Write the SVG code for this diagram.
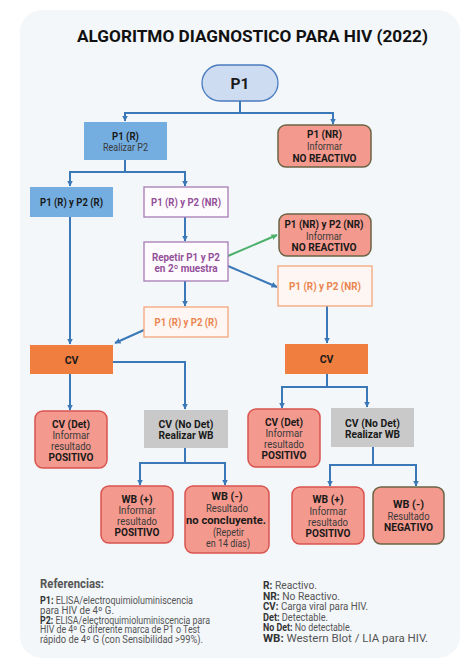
<svg xmlns="http://www.w3.org/2000/svg" width="474" height="670" viewBox="0 0 474 670">
<defs>
<style>
.t{font-family:Roboto,"Liberation Sans",sans-serif;font-size:10.5px;text-anchor:middle;fill:#1a1a1a}
.b{font-weight:bold}
.r{fill:#3a3a3a}
.pu{fill:#94509a;font-weight:bold}
.or{fill:#ea8550;font-weight:bold}
.c{fill:none;stroke:#3a78b8;stroke-width:2;marker-end:url(#ab)}
.g{fill:none;stroke:#4caf6a;stroke-width:2;marker-end:url(#ag)}
.blue{fill:#74aee0}
.sal{fill:#f4998d;stroke:#d9534f;stroke-width:1.5}
.saln{fill:#f4998d;stroke:#6b6445;stroke-width:1.5}
.pbox{fill:#fdfbfd;stroke:#a77bb5;stroke-width:1.3}
.obox{fill:#fdf6f2;stroke:#f5a77a;stroke-width:1.3}
.cv{fill:#f07e3e}
.gray{fill:#c9c9c9}
.l{font-family:Roboto,"Liberation Sans",sans-serif;font-size:10px;fill:#555}
.lb{font-weight:bold;fill:#333}
</style>
<marker id="ab" markerWidth="7" markerHeight="7" refX="5.5" refY="3.5" orient="auto" markerUnits="userSpaceOnUse"><path d="M0,0.5 L6,3.5 L0,6.5 z" fill="#3a78b8"/></marker>
<marker id="ag" markerWidth="7" markerHeight="7" refX="5.5" refY="3.5" orient="auto" markerUnits="userSpaceOnUse"><path d="M0,0.5 L6,3.5 L0,6.5 z" fill="#4caf6a"/></marker>
</defs>
<rect x="0" y="0" width="474" height="670" fill="#ffffff"/>
<rect x="20" y="10" width="440" height="648" rx="22" fill="#f3f7fa"/>
<text x="252.5" y="42" style="font-family:Roboto,'Liberation Sans',sans-serif;font-size:17px;font-weight:bold;fill:#111;text-anchor:middle" textLength="351" lengthAdjust="spacingAndGlyphs">ALGORITMO DIAGNOSTICO PARA HIV (2022)</text>

<g id="connectors">
<path class="c" d="M240 101 V113 H125 V121"/>
<path class="c" d="M240 113 H333 V124"/>
<path class="c" d="M125 160 V172 H70 V186"/>
<path class="c" d="M125 172 H185 V186"/>
<path class="c" d="M70 217 V344"/>
<path class="c" d="M185 217 V241"/>
<path class="c" d="M185 281 V306"/>
<path class="c" d="M144 330 L115 343"/>
<path class="g" d="M228 256 L277 235"/>
<path class="c" d="M228 266 L277 287"/>
<path class="c" d="M327 306 V343"/>
<path class="c" d="M70 374 V410"/>
<path class="c" d="M113 362 H185 V409"/>
<path class="c" d="M327 374 V387 H282 V408"/>
<path class="c" d="M327 387 H367 V407"/>
<path class="c" d="M185 448 V463 H140 V485"/>
<path class="c" d="M185 463 H225 V485"/>
<path class="c" d="M373 447 V465 H330 V486"/>
<path class="c" d="M373 465 H416 V486"/>
</g>

<g id="p1">
<rect x="202" y="65" width="76" height="36" rx="18" fill="#cddcf0" stroke="#4b7bbf" stroke-width="1.3"/>
<text class="t b" x="240" y="89" style="font-size:15.5px">P1</text>
</g>
<g id="p1r">
<rect class="blue" x="84" y="122" width="83" height="38"/>
<text class="t b" x="125.5" y="139.5" textLength="27" lengthAdjust="spacingAndGlyphs">P1 (R)</text>
<text class="t r" x="125.5" y="150.5" textLength="45" lengthAdjust="spacingAndGlyphs">Realizar P2</text>
</g>
<g id="p1nr">
<rect class="saln" x="278" y="125" width="93" height="42" rx="8"/>
<text class="t b" x="324.5" y="138" textLength="35" lengthAdjust="spacingAndGlyphs">P1 (NR)</text>
<text class="t r" x="324.5" y="150" textLength="35" lengthAdjust="spacingAndGlyphs">Informar</text>
<text class="t b" x="324.5" y="161.5" textLength="64" lengthAdjust="spacingAndGlyphs">NO REACTIVO</text>
</g>
<g id="p1r_p2r">
<rect class="blue" x="30" y="187" width="83" height="30"/>
<text class="t b" x="71.5" y="206" textLength="63" lengthAdjust="spacingAndGlyphs">P1 (R) y P2 (R)</text>
</g>
<g id="p1r_p2nr">
<rect class="pbox" x="144" y="187" width="84" height="30"/>
<text class="t pu" x="186" y="206" textLength="70" lengthAdjust="spacingAndGlyphs">P1 (R) y P2 (NR)</text>
</g>
<g id="repetir">
<rect class="pbox" x="144" y="242" width="84" height="39"/>
<text class="t pu" x="186" y="260.5" textLength="68" lengthAdjust="spacingAndGlyphs">Repetir P1 y P2</text>
<text class="t pu" x="186" y="271.5" textLength="63" lengthAdjust="spacingAndGlyphs">en 2º muestra</text>
</g>
<g id="p1r_p2r_2">
<rect class="obox" x="144" y="307" width="84" height="30"/>
<text class="t or" x="186" y="326" textLength="63" lengthAdjust="spacingAndGlyphs">P1 (R) y P2 (R)</text>
</g>
<g id="p1nr_p2nr">
<rect class="saln" x="279" y="214" width="92" height="42" rx="8"/>
<text class="t b" x="324" y="228" textLength="79" lengthAdjust="spacingAndGlyphs">P1 (NR) y P2 (NR)</text>
<text class="t r" x="324" y="239.5" textLength="36" lengthAdjust="spacingAndGlyphs">Informar</text>
<text class="t b" x="324" y="250.5" textLength="65" lengthAdjust="spacingAndGlyphs">NO REACTIVO</text>
</g>
<g id="p1r_p2nr_2">
<rect class="obox" x="278" y="266" width="94" height="40"/>
<text class="t or" x="325" y="290" textLength="72" lengthAdjust="spacingAndGlyphs">P1 (R) y P2 (NR)</text>
</g>
<g id="cv_left">
<rect class="cv" x="30" y="345" width="83" height="29"/>
<text class="t b" x="71.5" y="363.5">CV</text>
</g>
<g id="cv_right">
<rect class="cv" x="285" y="344" width="83" height="30"/>
<text class="t b" x="326.5" y="363">CV</text>
</g>
<g id="cvdet_left">
<rect class="sal" x="35" y="411" width="72" height="57" rx="8"/>
<text class="t b" x="71" y="428" textLength="38" lengthAdjust="spacingAndGlyphs">CV (Det)</text>
<text class="t r" x="71" y="439" textLength="37" lengthAdjust="spacingAndGlyphs">Informar</text>
<text class="t r" x="71" y="450" textLength="40" lengthAdjust="spacingAndGlyphs">resultado</text>
<text class="t b" x="71" y="461" textLength="45" lengthAdjust="spacingAndGlyphs">POSITIVO</text>
</g>
<g id="cvnodet_left">
<rect class="gray" x="144" y="410" width="84" height="38"/>
<text class="t b" x="186" y="428" textLength="55" lengthAdjust="spacingAndGlyphs">CV (No Det)</text>
<text class="t b" x="186" y="439" textLength="55" lengthAdjust="spacingAndGlyphs">Realizar WB</text>
</g>
<g id="cvdet_right">
<rect class="sal" x="248" y="409" width="72" height="58" rx="8"/>
<text class="t b" x="284" y="426" textLength="38" lengthAdjust="spacingAndGlyphs">CV (Det)</text>
<text class="t r" x="284" y="437" textLength="37" lengthAdjust="spacingAndGlyphs">Informar</text>
<text class="t r" x="284" y="448" textLength="40" lengthAdjust="spacingAndGlyphs">resultado</text>
<text class="t b" x="284" y="459" textLength="45" lengthAdjust="spacingAndGlyphs">POSITIVO</text>
</g>
<g id="cvnodet_right">
<rect class="gray" x="331" y="408" width="83" height="39"/>
<text class="t b" x="372.5" y="427" textLength="55" lengthAdjust="spacingAndGlyphs">CV (No Det)</text>
<text class="t b" x="372.5" y="438" textLength="55" lengthAdjust="spacingAndGlyphs">Realizar WB</text>
</g>
<g id="wbpos_left">
<rect class="sal" x="101" y="486" width="72" height="57" rx="8"/>
<text class="t b" x="137" y="503" textLength="31" lengthAdjust="spacingAndGlyphs">WB (+)</text>
<text class="t r" x="137" y="514" textLength="37" lengthAdjust="spacingAndGlyphs">Informar</text>
<text class="t r" x="137" y="525" textLength="40" lengthAdjust="spacingAndGlyphs">resultado</text>
<text class="t b" x="137" y="536" textLength="45" lengthAdjust="spacingAndGlyphs">POSITIVO</text>
</g>
<g id="wbneg_left">
<rect class="sal" x="185" y="486" width="84" height="67" rx="8"/>
<text class="t b" x="227" y="500" textLength="31" lengthAdjust="spacingAndGlyphs">WB (-)</text>
<text class="t r" x="227" y="512" textLength="42" lengthAdjust="spacingAndGlyphs">Resultado</text>
<text class="t b" x="226" y="524" textLength="80" lengthAdjust="spacingAndGlyphs">no concluyente.</text>
<text class="t r" x="228.5" y="536" textLength="31" lengthAdjust="spacingAndGlyphs">(Repetir</text>
<text class="t r" x="228" y="547" textLength="44" lengthAdjust="spacingAndGlyphs">en 14 días)</text>
</g>
<g id="wbpos_right">
<rect class="sal" x="292" y="487" width="72" height="57" rx="8"/>
<text class="t b" x="328" y="503" textLength="31" lengthAdjust="spacingAndGlyphs">WB (+)</text>
<text class="t r" x="328" y="515" textLength="37" lengthAdjust="spacingAndGlyphs">Informar</text>
<text class="t r" x="328" y="526" textLength="40" lengthAdjust="spacingAndGlyphs">resultado</text>
<text class="t b" x="328" y="537" textLength="45" lengthAdjust="spacingAndGlyphs">POSITIVO</text>
</g>
<g id="wbneg_right">
<rect class="saln" x="373" y="487" width="71" height="57" rx="8"/>
<text class="t b" x="408.5" y="508" textLength="31" lengthAdjust="spacingAndGlyphs">WB (-)</text>
<text class="t r" x="408.5" y="520" textLength="42" lengthAdjust="spacingAndGlyphs">Resultado</text>
<text class="t b" x="408.5" y="531" textLength="49" lengthAdjust="spacingAndGlyphs">NEGATIVO</text>
</g>

<g id="legend">
<text class="l lb" x="40" y="588" style="font-size:12px;fill:#555" textLength="64" lengthAdjust="spacingAndGlyphs">Referencias:</text>
<text class="l" x="40" y="604" textLength="153" lengthAdjust="spacingAndGlyphs"><tspan class="lb">P1:</tspan> ELISA/electroquimioluminiscencia</text>
<text class="l" x="40" y="614" textLength="74" lengthAdjust="spacingAndGlyphs">para HIV de 4º G.</text>
<text class="l" x="40" y="623.5" textLength="170" lengthAdjust="spacingAndGlyphs"><tspan class="lb">P2:</tspan> ELISA/electroquimioluminiscencia para</text>
<text class="l" x="40" y="633" textLength="160" lengthAdjust="spacingAndGlyphs">HIV de 4º G diferente marca de P1 o Test</text>
<text class="l" x="40" y="643" textLength="163" lengthAdjust="spacingAndGlyphs">rápido de 4º G (con Sensibilidad &gt;99%).</text>
<text class="l" x="263" y="589" textLength="54" lengthAdjust="spacingAndGlyphs"><tspan class="lb">R:</tspan> Reactivo.</text>
<text class="l" x="263" y="599.5" textLength="77" lengthAdjust="spacingAndGlyphs"><tspan class="lb">NR:</tspan> No Reactivo.</text>
<text class="l" x="263" y="610" textLength="105" lengthAdjust="spacingAndGlyphs"><tspan class="lb">CV:</tspan> Carga viral para HIV.</text>
<text class="l" x="263" y="620.5" textLength="65" lengthAdjust="spacingAndGlyphs"><tspan class="lb">Det:</tspan> Detectable.</text>
<text class="l" x="263" y="631" textLength="89" lengthAdjust="spacingAndGlyphs"><tspan class="lb">No Det:</tspan> No detectable.</text>
<text class="l" x="263" y="641.5" textLength="165" lengthAdjust="spacingAndGlyphs"><tspan class="lb">WB:</tspan> Western Blot / LIA para HIV.</text>
</g>
</svg>
